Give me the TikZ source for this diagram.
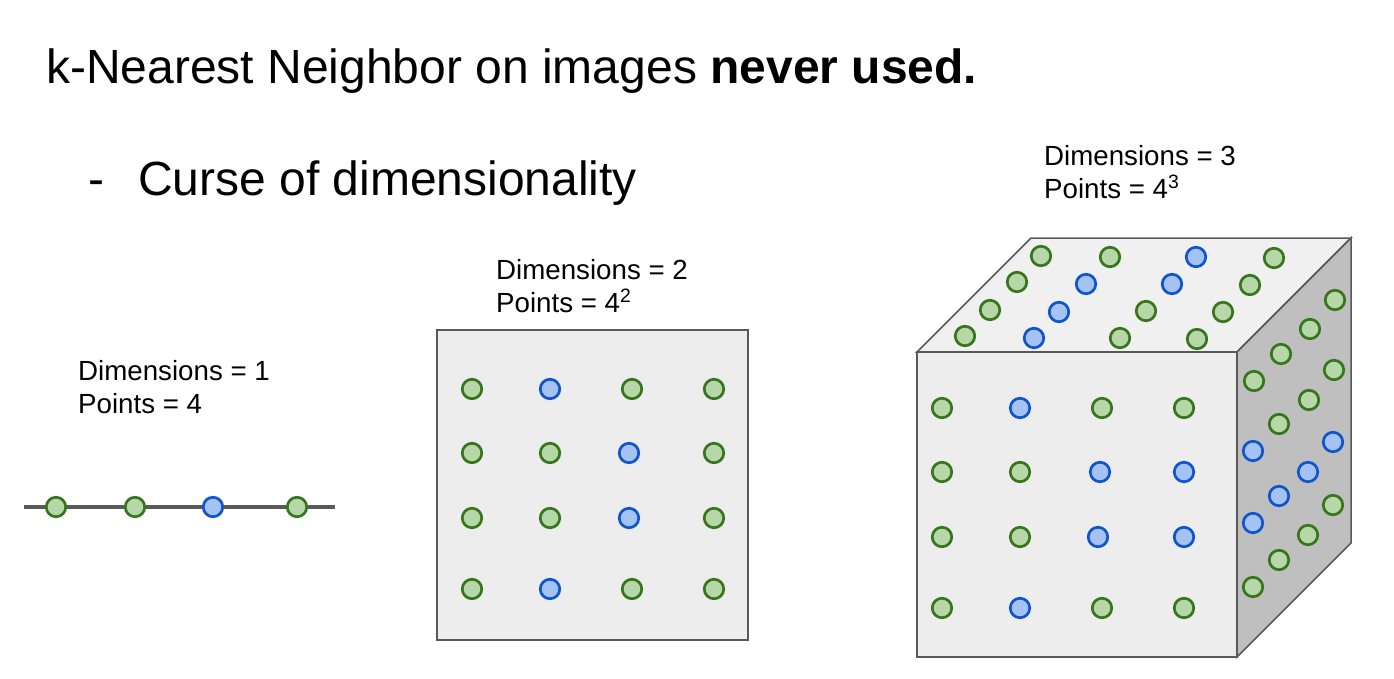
\documentclass[tikz,border=0pt]{standalone}
\usepackage{fontspec}
\setmainfont{Liberation Sans}
\definecolor{gfill}{HTML}{B6D7A8}
\definecolor{gline}{HTML}{38761D}
\definecolor{bfill}{HTML}{A4C2F4}
\definecolor{bline}{HTML}{1155CC}
\definecolor{edge}{HTML}{595959}

\begin{document}
\begin{tikzpicture}[x=1pt, y=-1pt,
    gdot/.style={circle, draw=gline, fill=gfill, line width=2.7pt, minimum size=19.5pt, inner sep=0pt},
    bdot/.style={circle, draw=bline, fill=bfill, line width=2.7pt, minimum size=19.5pt, inner sep=0pt},
    big/.style={anchor=base west, inner sep=0pt, font=\fontsize{48}{58}\selectfont},
    lbl/.style={anchor=base west, inner sep=0pt, align=left, font=\fontsize{27.7}{33}\selectfont},
    face/.style={draw=edge, line width=1.5pt}]
    \useasboundingbox (0,0) rectangle (1394,678);

    \node[big] (title) at (46,83) {k-Nearest Neighbor on images \textbf{never used.}};
    \node[big] (dash) at (88,195) {-};
    \node[big] (curse) at (138,195) {Curse of dimensionality};

    \node[lbl] (dim1) at (78,413) {Dimensions = 1\\Points = 4};
    \node[lbl] (dim2) at (496,312) {Dimensions = 2\\Points = 4\textsuperscript{2}};
    \node[lbl] (dim3) at (1044,198) {Dimensions = 3\\Points = 4\textsuperscript{3}};

    % one dimension
    \coordinate (la) at (24,507);
    \coordinate (lb) at (335,507);
    \draw[edge, line width=3.5pt] (la) -- (lb);
    \node[gdot] (l1) at (56,507) {};
    \node[gdot] (l2) at (135,507) {};
    \node[bdot] (l3) at (213,507) {};
    \node[gdot] (l4) at (297,507) {};

    % two dimensions
    \draw[face, fill=black!7] (437,330) rectangle (748,640);
    \node[gdot] (s11) at (472,389) {};
    \node[bdot] (s12) at (550,389) {};
    \node[gdot] (s13) at (632,389) {};
    \node[gdot] (s14) at (714,389) {};
    \node[gdot] (s21) at (472,453) {};
    \node[gdot] (s22) at (550,453) {};
    \node[bdot] (s23) at (629,453) {};
    \node[gdot] (s24) at (714,453) {};
    \node[gdot] (s31) at (472,518) {};
    \node[gdot] (s32) at (550,518) {};
    \node[bdot] (s33) at (629,518) {};
    \node[gdot] (s34) at (714,518) {};
    \node[gdot] (s41) at (472,589) {};
    \node[bdot] (s42) at (550,589) {};
    \node[gdot] (s43) at (632,589) {};
    \node[gdot] (s44) at (714,589) {};

    % three dimensions
    \draw[face, fill=black!6] (917,352) -- (1031,238) -- (1351,238) -- (1237,352) -- cycle;
    \draw[face, fill=black!25] (1237,352) -- (1351,238) -- (1351,543) -- (1237,657) -- cycle;
    \draw[face, fill=black!7] (917,352) rectangle (1237,657);

    \node[gdot] (f11) at (942,408) {};
    \node[bdot] (f12) at (1020,408) {};
    \node[gdot] (f13) at (1102,408) {};
    \node[gdot] (f14) at (1184,408) {};
    \node[gdot] (f21) at (942,472) {};
    \node[gdot] (f22) at (1020,472) {};
    \node[bdot] (f23) at (1100,472) {};
    \node[bdot] (f24) at (1184,472) {};
    \node[gdot] (f31) at (942,537) {};
    \node[gdot] (f32) at (1020,537) {};
    \node[bdot] (f33) at (1098,537) {};
    \node[bdot] (f34) at (1184,537) {};
    \node[gdot] (f41) at (942,608) {};
    \node[bdot] (f42) at (1020,608) {};
    \node[gdot] (f43) at (1102,608) {};
    \node[gdot] (f44) at (1184,608) {};

    \node[gdot] (t11) at (1041,256) {};
    \node[gdot] (t12) at (1110,257) {};
    \node[bdot] (t13) at (1196,257) {};
    \node[gdot] (t14) at (1274,258) {};
    \node[gdot] (t21) at (1017,282) {};
    \node[bdot] (t22) at (1086,284) {};
    \node[bdot] (t23) at (1172,284) {};
    \node[gdot] (t24) at (1250,285) {};
    \node[gdot] (t31) at (990,310) {};
    \node[bdot] (t32) at (1059,312) {};
    \node[gdot] (t33) at (1146,311) {};
    \node[gdot] (t34) at (1223,312) {};
    \node[gdot] (t41) at (965,336) {};
    \node[bdot] (t42) at (1034,338) {};
    \node[gdot] (t43) at (1120,338) {};
    \node[gdot] (t44) at (1197,339) {};

    \node[gdot] (r11) at (1335,300) {};
    \node[gdot] (r12) at (1310,329) {};
    \node[gdot] (r13) at (1281,354) {};
    \node[gdot] (r14) at (1254,381) {};
    \node[gdot] (r21) at (1334,370) {};
    \node[gdot] (r22) at (1309,400) {};
    \node[gdot] (r23) at (1279,424) {};
    \node[bdot] (r24) at (1253,451) {};
    \node[bdot] (r31) at (1333,442) {};
    \node[bdot] (r32) at (1308,472) {};
    \node[bdot] (r33) at (1279,496) {};
    \node[bdot] (r34) at (1253,523) {};
    \node[gdot] (r41) at (1333,505) {};
    \node[gdot] (r42) at (1308,535) {};
    \node[gdot] (r43) at (1279,560) {};
    \node[gdot] (r44) at (1253,587) {};
\end{tikzpicture}
\end{document}
